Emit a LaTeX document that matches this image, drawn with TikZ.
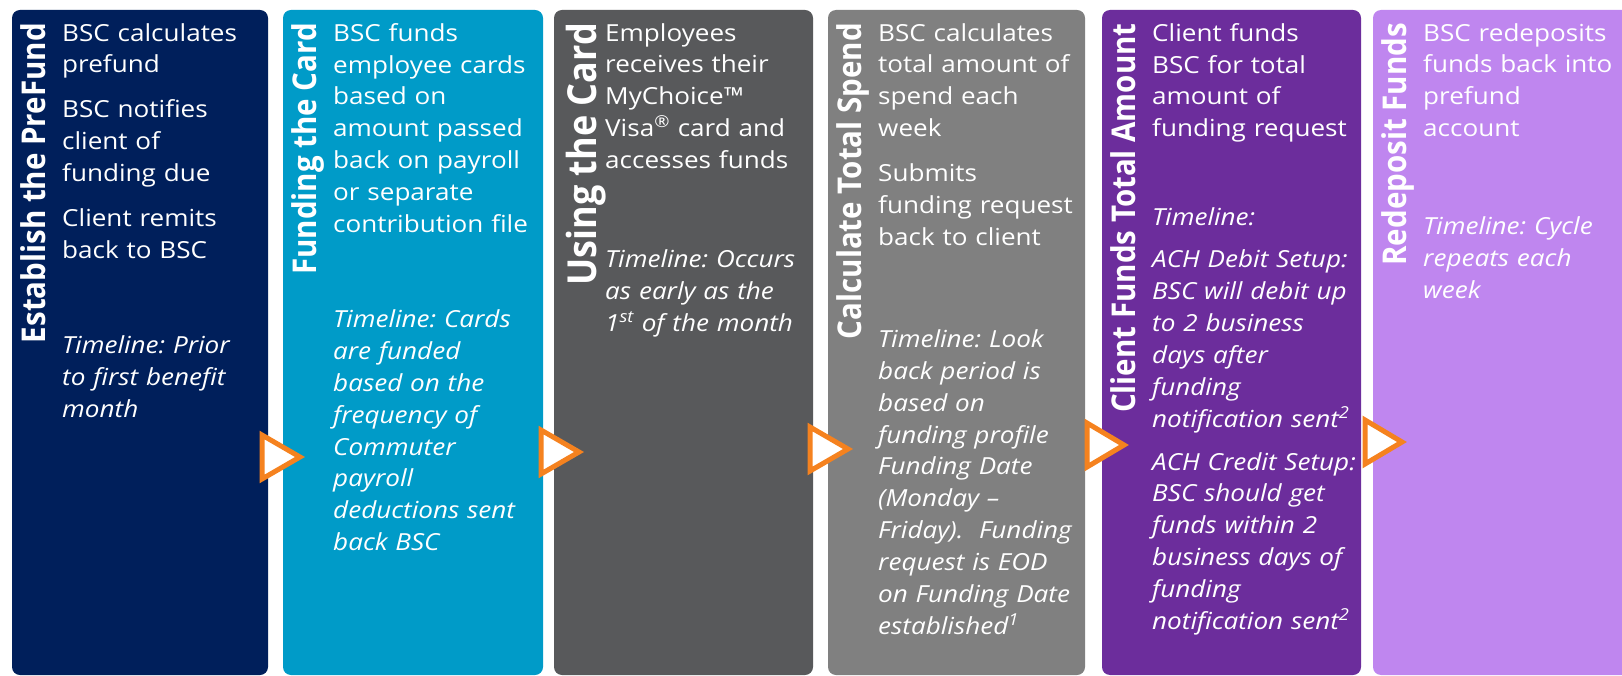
\documentclass[tikz,border=0pt]{standalone}
\usepackage{fontspec}
\setmainfont{Open Sans}[FakeStretch=1.11]
\newfontfamily\titlefam{Open Sans}
\usepackage{tikz}
\usetikzlibrary{positioning}
\frenchspacing

\definecolor{navy}{HTML}{001F5B}
\definecolor{cyanblue}{HTML}{009BC8}
\definecolor{darkgrey}{HTML}{58595B}
\definecolor{midgrey}{HTML}{808080}
\definecolor{grape}{HTML}{6C2D9C}
\definecolor{lilac}{HTML}{BF86EF}
\definecolor{arroworange}{HTML}{F5821F}

\newcommand{\bodyfont}{\fontsize{23.5}{31.9}\selectfont}
\newcommand{\titlefont}{\titlefam\bfseries\fontsize{29.5}{29.5}\selectfont}

\tikzstyle{panel} = [rectangle, rounded corners=8pt, inner sep=0pt, outer sep=0pt, minimum height=665pt]
\tikzstyle{title} = [rotate=90, anchor=base east, inner sep=0pt, text=white, font=\titlefont]
\tikzstyle{body} = [inner sep=0pt, text=white, text width=225pt, align=left, font=\bodyfont]
\tikzstyle{marker} = [draw=arroworange, fill=white, line width=5pt]

\begin{document}
\begin{tikzpicture}[x=1pt, y=-1pt]
    \useasboundingbox (0,0) rectangle (1622,676);
    \clip (0,0) rectangle (1622,676);
    % the six steps
    \node [panel, fill=navy, minimum width=256pt, anchor=north west] (p1) at (12,10) {};
    \node [panel, fill=cyanblue, minimum width=260pt, right=15pt of p1] (p2) {};
    \node [panel, fill=darkgrey, minimum width=259pt, right=11pt of p2] (p3) {};
    \node [panel, fill=midgrey, minimum width=257pt, right=15pt of p3] (p4) {};
    \node [panel, fill=grape, minimum width=259pt, right=17pt of p4] (p5) {};
    \node [panel, fill=lilac, minimum width=260pt, right=12pt of p5] (p6) {};
    % titles down the left side
    \node [title] (t1) at ([shift={(33,13)}]p1.north west) {\scalebox{1}[1.11]{Establish the PreFund}};
    \node [title] (t2) at ([shift={(33,13)}]p2.north west) {\scalebox{1}[1.11]{Funding the Card}};
    \node [title, font=\titlefam\bfseries\fontsize{36}{36}\selectfont] (t3) at ([shift={(42,13)}]p3.north west) {\scalebox{1}[1.11]{Using the Card}};
    \node [title] (t4) at ([shift={(33,13)}]p4.north west) {\scalebox{1}[1.11]{Calculate Total Spend}};
    \node [title] (t5) at ([shift={(33,13)}]p5.north west) {\scalebox{1}[1.11]{Client Funds Total Amount}};
    \node [title] (t6) at ([shift={(33,13)}]p6.north west) {\scalebox{1}[1.11]{Redeposit Funds}};
    % texts
    \node [body, below right=13pt and 50pt of p1.north west] (b1) {BSC calculates\\ prefund\\[13pt] BSC notifies\\ client of\\ funding due\\[13pt] Client remits\\ back to BSC\\[63pt] \itshape Timeline: Prior\\ to first benefit\\ month};
    \node [body, below right=13pt and 50pt of p2.north west] (b2) {BSC funds\\ employee cards\\ based on\\ amount passed\\ back on payroll\\ or separate\\ contribution file\\[63pt] \itshape Timeline: Cards\\ are funded\\ based on the\\ frequency of\\ Commuter\\ payroll\\ deductions sent\\ back BSC};
    \node [body, below right=13pt and 51pt of p3.north west] (b3) {Employees\\ receives their\\ MyChoice™\\ Visa\textsuperscript{®} card and\\ accesses funds\\[67pt] \itshape Timeline: Occurs\\ as early as the\\ 1\textsuperscript{st} of the month};
    \node [body, below right=13pt and 50pt of p4.north west] (b4) {BSC calculates\\ total amount of\\ spend each\\ week\\[13pt] Submits\\ funding request\\ back to client\\[70pt] \itshape Timeline: Look\\ back period is\\ based on\\ funding profile\\ Funding Date\\ (Monday –\\ Friday).~ Funding\\ request is EOD\\ on Funding Date\\ established\textsuperscript{1}};
    \node [body, below right=13pt and 50pt of p5.north west] (b5) {Client funds\\ BSC for total\\ amount of\\ funding request\\[57pt] \itshape Timeline:\\[10pt] ACH Debit Setup:\\ BSC will debit up\\ to 2 business\\ days after\\ funding\\ notification sent\textsuperscript{2}\\[11pt] ACH Credit Setup:\\ BSC should get\\ funds within 2\\ business days of\\ funding\\ notification sent\textsuperscript{2}};
    \node [body, below right=13pt and 50pt of p6.north west] (b6) {BSC redeposits\\ funds back into\\ prefund\\ account\\[66pt] \itshape Timeline: Cycle\\ repeats each\\ week};
    % arrows between the steps
    \draw [marker] ([shift={(-6,-22)}]p1.east |- 0,457) -- ++(38,22) -- ++(-38,22) -- cycle;
    \draw [marker] ([shift={(-2,-22)}]p2.east |- 0,452) -- ++(38,22) -- ++(-38,22) -- cycle;
    \draw [marker] ([shift={(-3,-22)}]p3.east |- 0,449) -- ++(38,22) -- ++(-38,22) -- cycle;
    \draw [marker] ([shift={(2,-22)}]p4.east |- 0,445) -- ++(37,22) -- ++(-37,22) -- cycle;
    \draw [marker] ([shift={(4,-22)}]p5.east |- 0,442) -- ++(37,22) -- ++(-37,22) -- cycle;
\end{tikzpicture}
\end{document}
